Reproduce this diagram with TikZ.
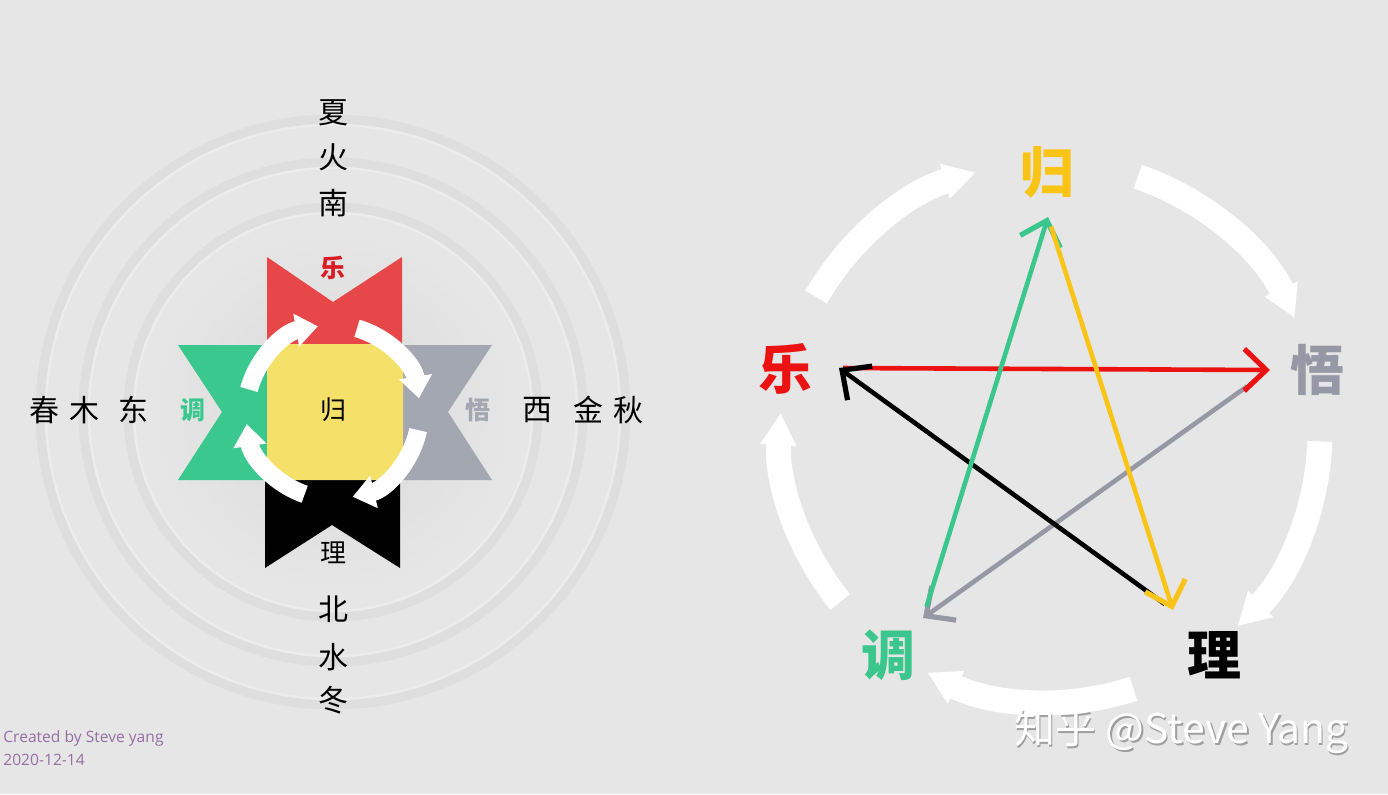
\documentclass[tikz,border=0pt]{standalone}
\usepackage{fontspec}
\setmainfont{Noto Sans CJK SC}
\newfontfamily\creditfont{Open Sans}
\usepackage{tikz}
\usetikzlibrary{arrows.meta,positioning}

\definecolor{bg}{RGB}{230,230,230}
\definecolor{ringgray}{RGB}{222,222,222}
\definecolor{ringlight}{RGB}{236,236,236}
\definecolor{diskgray}{RGB}{217,217,217}
\definecolor{lered}{RGB}{232,71,74}
\definecolor{legreen}{RGB}{59,200,143}
\definecolor{legray}{RGB}{163,167,178}
\definecolor{leyellow}{RGB}{245,224,106}
\definecolor{txred}{RGB}{218,28,36}
\definecolor{stred}{RGB}{236,18,18}
\definecolor{stgray}{RGB}{150,152,165}
\definecolor{stgreen}{RGB}{58,198,140}
\definecolor{styellow}{RGB}{250,196,22}
\definecolor{credit}{RGB}{150,110,165}

\begin{document}
\begin{tikzpicture}[x=0.5pt,y=0.5pt,
  every node/.style={inner sep=0pt},
  season/.style={font=\fontsize{15}{15}\selectfont},
  tag/.style={font=\bfseries\fontsize{12.5}{12.5}\selectfont},
  big/.style={font=\bfseries\fontsize{27}{27}\selectfont},
  ring/.style={draw=ringgray,line width=4.5pt},
  cyc/.style={draw=white,line width=9pt,-{Triangle[length=11pt,width=16pt]}},
  bigcyc/.style={draw=white,line width=12.5pt,-{Triangle[length=16pt,width=17pt]}},
  star/.style={line width=2.3pt,-{Straight Barb[length=11pt,width=21pt,line width=2.6pt]}}]
  \fill[bg] (0,0) rectangle (1388,-794);
  \useasboundingbox (0,0) rectangle (1388,-794);

  % left: the four directions round the centre
  \coordinate (O) at (333,-412);
  \shade[inner color=diskgray,outer color=bg] (O) circle[radius=185];
  \foreach \r in {205,250,293}{
    \draw[ring] (O) circle[radius=\r];
    \draw[ringlight,line width=1.2pt] (O) circle[radius=\r-6];
  }
  \fill[lered] (267,-257) -- (333,-302) -- (402,-257) -- (402,-360) -- (267,-360) -- cycle;
  \fill[legreen] (178,-345) -- (280,-345) -- (280,-480) -- (178,-480) -- (222,-412) -- cycle;
  \fill[legray] (492,-345) -- (390,-345) -- (390,-480) -- (492,-480) -- (448,-412) -- cycle;
  \fill[black] (265,-470) -- (400,-470) -- (400,-568) -- (332,-525) -- (265,-568) -- cycle;
  \fill[leyellow,rounded corners=4pt] (267,-344) rectangle (403,-480);
  \draw[cyc] (O) ++(165:87) arc[start angle=165,end angle=100,radius=87];
  \draw[cyc] (O) ++(74:87) arc[start angle=74,end angle=9,radius=87];
  \draw[cyc] (O) ++(-12:87) arc[start angle=-12,end angle=-77,radius=87];
  \draw[cyc] (O) ++(-109:87) arc[start angle=-109,end angle=-172,radius=87];

  \node[tag,text=txred] (le) at (333,-268) {乐};
  \node[tag,text=legreen] (tiao) at (193,-410) {调};
  \node[tag,text=legray] (wu) at (478,-410) {悟};
  \node[font=\fontsize{13}{13}\selectfont] (gui) at (333,-410) {归};
  \node[font=\fontsize{13}{13}\selectfont] (li) at (333,-553) {理};

  \node[season] (xia) at (333,-113) {夏};
  \node[season] (huo) at (333,-157) {火};
  \node[season] (nan) at (333,-203) {南};
  \node[season] (bei) at (333,-609) {北};
  \node[season] (shui) at (333,-657) {水};
  \node[season] (dong) at (333,-700) {冬};
  \node[season] (chun) at (44,-410) {春};
  \node[season] (mu) at (84,-410) {木};
  \node[season] (dongf) at (133,-410) {东};
  \node[season] (xi) at (537,-410) {西};
  \node[season] (jin) at (588,-410) {金};
  \node[season] (qiu) at (628,-410) {秋};

  \node[anchor=west,text=credit,font=\creditfont\fontsize{7.8}{7.8}\selectfont] (made) at (3,-738) {Created by Steve yang};
  \node[anchor=west,text=credit,font=\creditfont\fontsize{7.8}{7.8}\selectfont] (date) at (3,-760) {2020-12-14};

  % right: the star and its cycle
  \coordinate (P) at (1050,-432);
  \draw[bigcyc] (P) ++(150:270) arc[start angle=150,end angle=106,radius=270];
  \draw[bigcyc] (P) ++(71:270) arc[start angle=71,end angle=25,radius=270];
  \draw[bigcyc] (P) ++(-2:270) arc[start angle=-2,end angle=-46,radius=270];
  \draw[bigcyc] (P) ++(-72:270) arc[start angle=-72,end angle=-117,radius=270];
  \draw[bigcyc] (P) ++(-141:270) arc[start angle=-141,end angle=-184,radius=270];

  \coordinate (vG) at (1048,-217);
  \coordinate (vL) at (839,-368);
  \coordinate (vR) at (1270,-370);
  \coordinate (vT) at (923,-618);
  \coordinate (vB) at (1173,-610);
  \draw[star,stgray,shorten <=14pt] (vR) -- (vT);
  \draw[star,stred,shorten <=2pt] (vL) -- (vR);
  \draw[star,black,shorten <=5pt] (vB) -- (vL);
  \draw[star,stgreen,shorten <=6pt] (vT) -- (vG);
  \draw[star,styellow,shorten <=5pt] (vG) -- (vB);

  \node[big,text=styellow] (Gui) at (1047,-172) {归};
  \node[big,text=stred] (Le) at (785,-369) {乐};
  \node[big,text=stgray] (Wu) at (1317,-370) {悟};
  \node[big,text=stgreen] (Tiao) at (888,-655) {调};
  \node[big,text=black] (Li) at (1214,-655) {理};

  \node[text=gray!75,font=\fontsize{20.5}{20.5}\selectfont] (markshade) at (1183,-733) {知乎 @Steve Yang};
  \node[text=white,font=\fontsize{20.5}{20.5}\selectfont] (mark) at (1181.5,-731.5) {知乎 @Steve Yang};
\end{tikzpicture}
\end{document}
